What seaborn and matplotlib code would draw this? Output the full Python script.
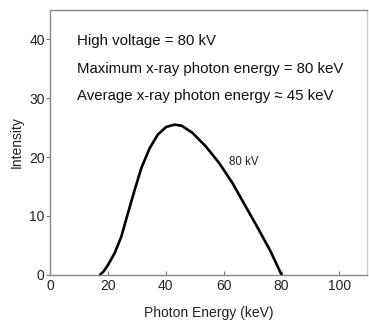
import numpy as np
import pandas as pd
import matplotlib
matplotlib.use("Agg")
import matplotlib.pyplot as plt
import seaborn as sns

sns.set_theme(style="white")
plt.rcParams["font.family"] = ["Liberation Sans", "DejaVu Sans"]

# spectrum
energy = [17.2, 18.5, 20.0, 22.3, 24.6, 26.9, 29.2, 31.5, 34.4, 37.2, 40.1, 43.0,
          45.5, 49.2, 53.8, 58.4, 63.0, 67.6, 72.2, 76.2, 80.0]
intensity = [0.0, 0.6, 1.7, 3.7, 6.5, 10.5, 14.4, 18.1, 21.5, 23.8, 25.1, 25.5,
             25.3, 24.1, 21.8, 19.0, 15.6, 11.6, 7.6, 4.0, 0.0]

xticks = [0, 20, 40, 60, 80, 100]
yticks = [0, 10, 20, 30, 40]
notes = ["High voltage = 80 kV",
         "Maximum x-ray photon energy = 80 keV",
         "Average x-ray photon energy \u2248 45 keV"]

df = pd.DataFrame({"Photon Energy": energy, "Intensity": intensity})

fig, ax = plt.subplots(figsize=(3.69, 3.23), dpi=100)
fig.subplots_adjust(left=0.136, right=0.995, top=0.97, bottom=0.149)

sns.lineplot(data=df, x="Photon Energy", y="Intensity", color="black",
             linewidth=1.9, ax=ax)

ax.set_xlim(0, 109.6)
ax.set_ylim(0, 45)
ax.set_xticks(xticks)
ax.set_yticks(yticks)
ax.tick_params(axis="x", bottom=True, direction="in", length=3, pad=3)
ax.tick_params(axis="y", left=True, direction="out", length=3, pad=1)
ax.tick_params(axis="both", labelsize=10, width=0.8, color="#777777",
               labelcolor="#222222")
for s in ax.spines.values():
    s.set_color("#888888")
    s.set_linewidth(1.0)
ax.spines["right"].set_color("#cccccc")

ax.set_xlabel("Photon Energy (keV)", fontsize=10, labelpad=9, color="#222222")
ax.set_ylabel("Intensity", fontsize=10, labelpad=4, color="#222222")

for i, t in enumerate(notes):
    ax.text(9.3, 39.7 - i * 4.7, t, fontsize=10.8, va="center", ha="left", color="#111111")

ax.text(61.9, 19.2, "80 kV", fontsize=8.3, va="center", ha="left", color="#222222")

fig.savefig("out.png", dpi=100)
